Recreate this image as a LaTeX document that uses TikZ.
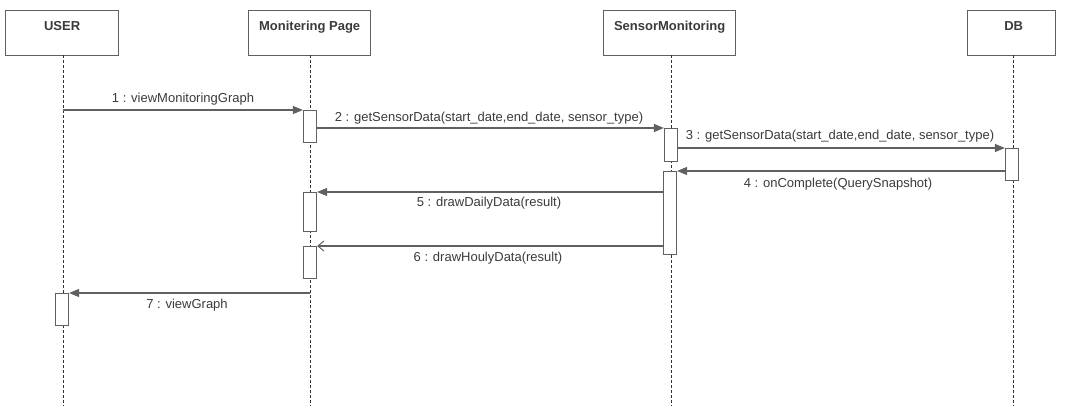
\documentclass[tikz,border=0pt]{standalone}
\usepackage{fontspec}
\setmainfont{Liberation Sans}
\usetikzlibrary{arrows.meta}
\definecolor{ln}{HTML}{606060}
\definecolor{tx}{HTML}{3A3A3A}
\tikzset{
  head/.style={draw=ln, line width=1.3pt, rectangle, anchor=north west, inner sep=0pt},
  headtext/.style={text=tx, font=\bfseries\fontsize{13}{15}\selectfont, anchor=north, inner sep=0pt},
  life/.style={draw=black!80, dashed, dash pattern=on 3pt off 2pt, line width=0.7pt},
  act/.style={draw=ln, fill=white, line width=1.2pt, minimum width=13pt, inner sep=0pt, anchor=north},
  msg/.style={draw=ln, line width=1.2pt, -{Triangle[length=10pt,width=8pt]}},
  ret/.style={draw=ln, line width=1.2pt, -{Straight Barb[length=6pt,width=10pt,line width=1pt]}},
  lbl/.style={text=tx, font=\fontsize{13}{15}\selectfont, inner sep=0pt}
}
\begin{document}
\begin{tikzpicture}[x=1pt,y=-1pt]
\useasboundingbox (0,0) rectangle (1076,406);
% heads
\node[head, minimum width=113pt, minimum height=45pt] (user) at (5,10) {};
\node[head, minimum width=122pt, minimum height=45pt] (mp) at (248,10) {};
\node[head, minimum width=132pt, minimum height=45pt] (sm) at (603,10) {};
\node[head, minimum width=88pt, minimum height=45pt] (db) at (967,10) {};
\node[headtext] (userT) at ([yshift=-11pt]user.north) {USER};
\node[headtext] (mpT) at ([yshift=-11pt]mp.north) {Monitering Page};
\node[headtext] (smT) at ([yshift=-11pt]sm.north) {SensorMonitoring};
\node[headtext] (dbT) at ([xshift=2pt,yshift=-11pt]db.north) {DB};
% lifeline bottoms
\coordinate (userE) at (63,406);
\coordinate (mpE) at (310,406);
\coordinate (smE) at (671,406);
\coordinate (dbE) at (1013,406);
\draw[life] (63,55) -- (userE);
\draw[life] (310,55) -- (mpE);
\draw[life] (671,55) -- (smE);
\draw[life] (1013,55) -- (dbE);
% activations
\node[act, minimum height=32pt] (a1) at (310,110) {};
\node[act, minimum height=33pt] (a2) at (671,128) {};
\node[act, minimum height=32pt] (a3) at (1012,148) {};
\node[act, minimum height=83pt] (a4) at (670,171) {};
\node[act, minimum height=39pt] (a5) at (310,192) {};
\node[act, minimum height=32pt] (a6) at (310,246) {};
\node[act, minimum height=32pt] (a7) at (62,293) {};
\coordinate (u1) at (63,110);
\coordinate (m7) at (310,293);
% messages
\draw[msg] (u1) -- (a1.north west);
\draw[msg] (a2.north west -| a1.east) -- (a2.north west);
\draw[msg] (a3.north west -| a2.east) -- (a3.north west);
\draw[msg] (a4.north east -| a3.west) -- (a4.north east);
\draw[msg] (a5.north east -| a4.west) -- (a5.north east);
\draw[ret] (a6.north east -| a4.west) -- (a6.north east);
\draw[msg] (m7) -- (a7.north east);
% labels
\node[lbl] (l1) at (183,99) {1 : viewMonitoringGraph};
\node[lbl] (l2) at (489,118) {2 : getSensorData(start\_date,end\_date, sensor\_type)};
\node[lbl] (l3) at (840,136) {3 : getSensorData(start\_date,end\_date, sensor\_type)};
\node[lbl] (l4) at (838,184) {4 : onComplete(QuerySnapshot)};
\node[lbl] (l5) at (489,203) {5 : drawDailyData(result)};
\node[lbl] (l6) at (488,258) {6 : drawHoulyData(result)};
\node[lbl] (l7) at (187,305) {7 : viewGraph};
\end{tikzpicture}
\end{document}
